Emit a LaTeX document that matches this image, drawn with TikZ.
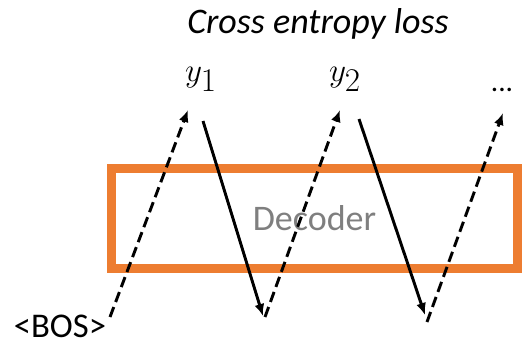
\documentclass[tikz,border=0pt]{standalone}
\usepackage{fontspec}
\setmainfont{Carlito}
\usepackage{tikz}
\usetikzlibrary{arrows.meta}
\definecolor{decorange}{HTML}{ED7D31}
\definecolor{decgray}{HTML}{7F7F7F}

\begin{document}
\begin{tikzpicture}[x=0.75pt, y=-0.75pt,
  dec/.style={draw=decorange, line width=6.75pt, minimum width=304.5pt,
              minimum height=75pt, inner sep=0pt, text=decgray,
              font=\fontsize{27}{32}\selectfont},
  tok/.style={inner sep=0pt, font=\fontsize{26}{31}\selectfont},
  feed/.style={->, dashed, dash pattern=on 8pt off 4pt},
  pred/.style={->},
  >={Latex[length=9pt,width=7.5pt]}, line width=2.2pt
]
  \useasboundingbox (0,0) rectangle (525,347);
  % Labels
  \node[font=\fontsize{27}{32}\selectfont\itshape] (loss) at (318,24) {Cross entropy loss};
  \node[tok, font=\fontsize{34}{38}\selectfont] (y1)   at (201,79) {$y_1$};
  \node[tok, font=\fontsize{34}{38}\selectfont] (y2)   at (345,79) {$y_2$};
  \node[tok, font=\fontsize{22}{26}\selectfont] (dots) at (502,90) {...};
  \node[tok, text depth=0pt, anchor=base] (bos) at (60,337) {<BOS>};
  % Decoder block
  \node[dec] (dec) at (314.5,218) {Decoder};
  % Arrow ends
  \coordinate (in1)  at (110,317);
  \coordinate (top1) at (188,110);
  \coordinate (out1) at (203,121);
  \coordinate (bot1) at (263,316);
  \coordinate (in2)  at (265,317);
  \coordinate (top2) at (340,110);
  \coordinate (out2) at (359,119);
  \coordinate (bot2) at (425,315);
  \coordinate (in3)  at (427,322);
  \coordinate (top3) at (503,113);
  % Connections
  \draw[feed] (in1)  -- (top1);
  \draw[pred] (out1) -- (bot1);
  \draw[feed] (in2)  -- (top2);
  \draw[pred] (out2) -- (bot2);
  \draw[feed] (in3)  -- (top3);
\end{tikzpicture}
\end{document}
